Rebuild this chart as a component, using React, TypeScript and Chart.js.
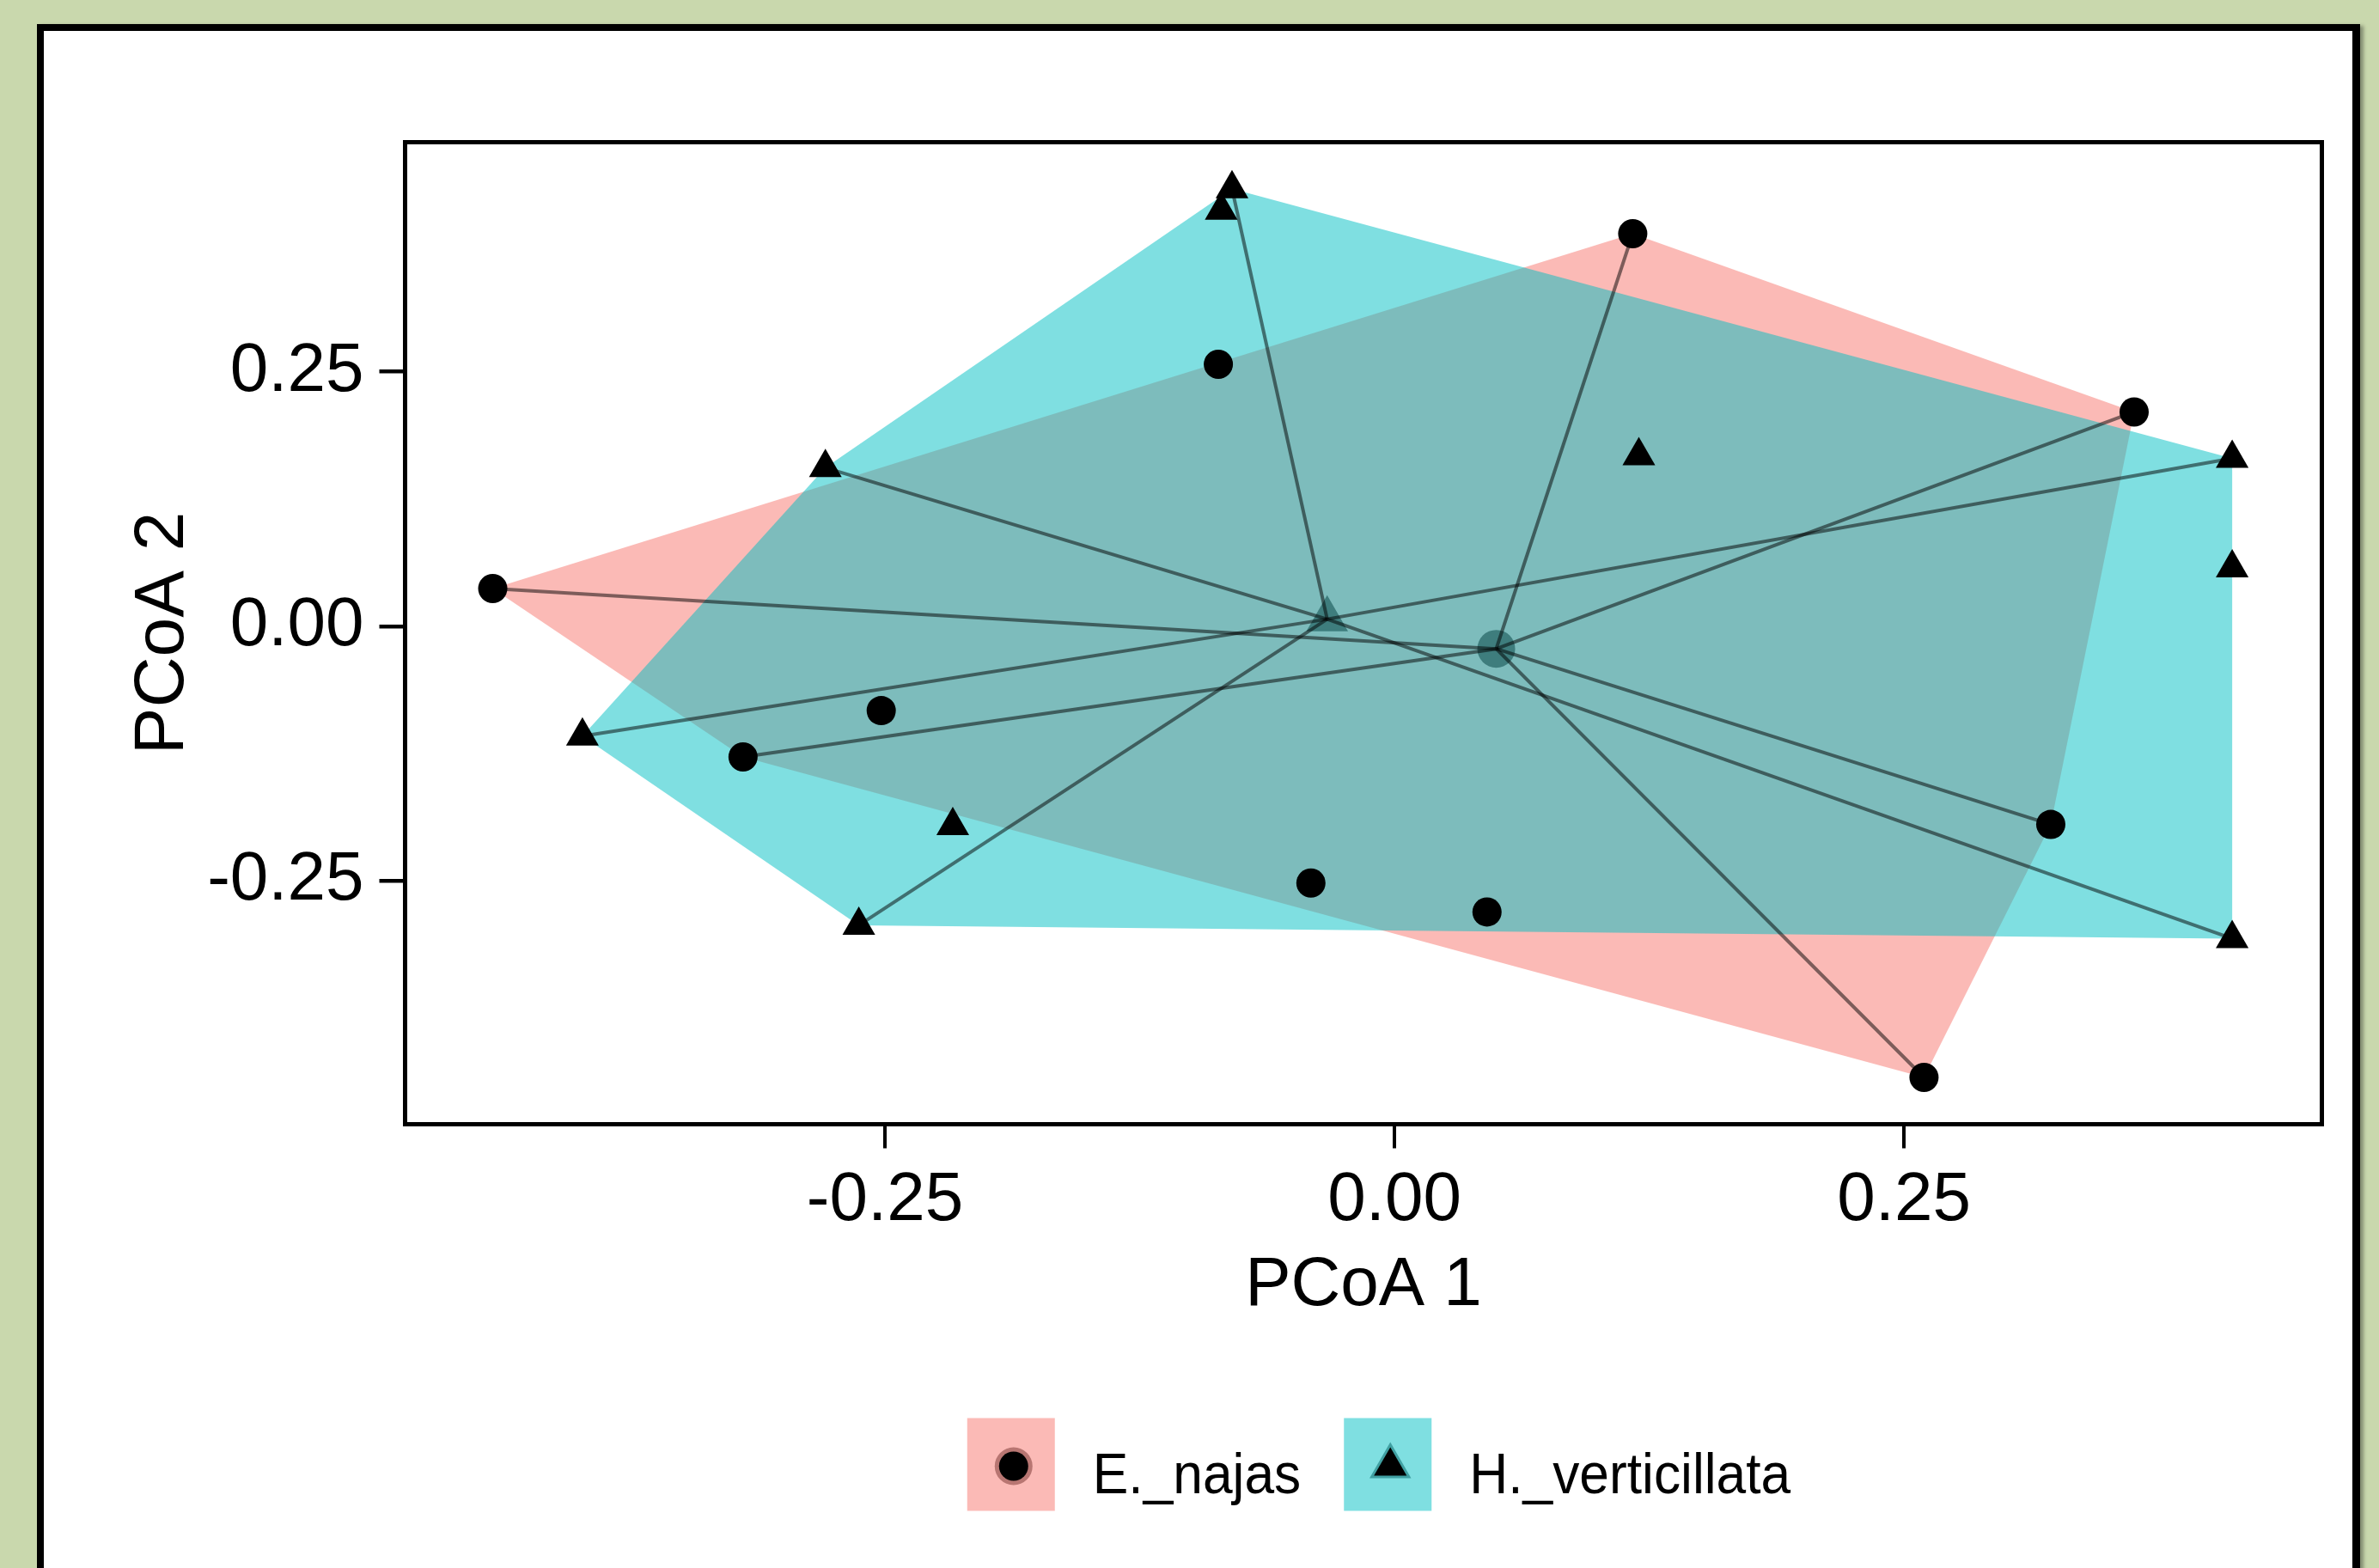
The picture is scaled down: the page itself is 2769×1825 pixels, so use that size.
import React, { useEffect, useRef } from 'react';
import { Chart, registerables } from 'chart.js';

Chart.register(...registerables);

// ---------- data ----------
const SERIES_NAMES = ['E._najas', 'H._verticillata'];

const E_X = [-0.4424, -0.0864, 0.1169, 0.3629, -0.2518, -0.3196, -0.041, 0.0454, 0.322, 0.2598];
const E_Y = [0.0371, 0.2574, 0.3857, 0.2106, -0.0828, -0.1283, -0.2521, -0.2805, -0.1946, -0.443];

const H_X = [-0.0797, -0.085, -0.2792, 0.1199, 0.411, 0.411, -0.3984, -0.2167, -0.2628, 0.411];
const H_Y = [0.4297, 0.4086, 0.1558, 0.1676, 0.165, 0.0573, -0.1078, -0.1958, -0.2936, -0.3067];

const X_TICKS = [-0.25, 0, 0.25];
const Y_TICKS = [-0.25, 0, 0.25];
const X_MIN = -0.4854;
const X_MAX = 0.455;
const Y_MIN = -0.489;
const Y_MAX = 0.4755;
const X_TITLE = 'PCoA 1';
const Y_TITLE = 'PCoA 2';

// ---------- styles ----------
const FONT = '"Liberation Sans", Arial, Helvetica, sans-serif';
const FILL_COLORS = ['rgba(248,118,109,0.5)', 'rgba(0,191,196,0.5)'];
const KEY_RIM_COLORS = ['#B87672', '#40A0A2'];
const CENTROID_COLOR = 'rgba(0,64,64,0.5)';
const SPIDER_COLOR = 'rgba(0,0,0,0.5)';
const PAGE_W = 2769;
const PAGE_H = 1825;

type P = { x: number; y: number };

function convexHull(points: P[]): P[] {
  const pts = points.slice().sort((a, b) => (a.x === b.x ? a.y - b.y : a.x - b.x));
  const cross = (o: P, a: P, b: P) => (a.x - o.x) * (b.y - o.y) - (a.y - o.y) * (b.x - o.x);
  const lower: P[] = [];
  for (const p of pts) {
    while (lower.length >= 2 && cross(lower[lower.length - 2], lower[lower.length - 1], p) <= 0) lower.pop();
    lower.push(p);
  }
  const upper: P[] = [];
  for (let i = pts.length - 1; i >= 0; i--) {
    const p = pts[i];
    while (upper.length >= 2 && cross(upper[upper.length - 2], upper[upper.length - 1], p) <= 0) upper.pop();
    upper.push(p);
  }
  upper.pop();
  lower.pop();
  return lower.concat(upper);
}

function mean(pts: P[]): P {
  const n = pts.length;
  return {
    x: pts.reduce((s, p) => s + p.x, 0) / n,
    y: pts.reduce((s, p) => s + p.y, 0) / n,
  };
}

function drawTri(ctx: CanvasRenderingContext2D, x: number, y: number, r: number) {
  ctx.beginPath();
  ctx.moveTo(x, y - r);
  ctx.lineTo(x + Math.sin((2 * Math.PI) / 3) * r, y - Math.cos((2 * Math.PI) / 3) * r);
  ctx.lineTo(x + Math.sin((4 * Math.PI) / 3) * r, y - Math.cos((4 * Math.PI) / 3) * r);
  ctx.closePath();
  ctx.fill();
}

function drawCircle(ctx: CanvasRenderingContext2D, x: number, y: number, r: number) {
  ctx.beginPath();
  ctx.arc(x, y, r, 0, Math.PI * 2);
  ctx.fill();
}

const boxPlugin = {
  id: 'panelBox',
  afterDraw(chart: any) {
    const { ctx, chartArea } = chart;
    ctx.save();
    ctx.strokeStyle = '#000';
    ctx.lineWidth = 5;
    ctx.strokeRect(chartArea.left, chartArea.top, chartArea.right - chartArea.left, chartArea.bottom - chartArea.top);
    ctx.restore();
  },
};

const legendPlugin = {
  id: 'keyLegend',
  afterDraw(chart: any) {
    const { ctx, chartArea } = chart;
    const fontSize = 67;
    const sx = 0.93;
    const keyW = 102;
    const keyH = 108;
    const gapKeyText = 44;
    const gapTextKey = 50;
    ctx.save();
    ctx.font = `${fontSize}px ${FONT}`;
    const widths = SERIES_NAMES.map((n) => ctx.measureText(n).width * sx);
    const total = widths.reduce((s, w) => s + w, 0) + SERIES_NAMES.length * (keyW + gapKeyText) + gapTextKey * (SERIES_NAMES.length - 1);
    const center = (chartArea.left + chartArea.right) / 2 + 18;
    const keyCy = chartArea.bottom + 396;
    let x = center - total / 2;
    SERIES_NAMES.forEach((name, i) => {
      ctx.fillStyle = '#fff';
      ctx.fillRect(x, keyCy - keyH / 2, keyW, keyH);
      ctx.fillStyle = FILL_COLORS[i];
      ctx.fillRect(x, keyCy - keyH / 2, keyW, keyH);
      const cx = x + keyW / 2 + 3;
      const cy = keyCy + 2;
      ctx.fillStyle = KEY_RIM_COLORS[i];
      if (i === 0) drawCircle(ctx, cx, cy, 22);
      else drawTri(ctx, cx, cy, 28);
      ctx.fillStyle = '#000';
      if (i === 0) drawCircle(ctx, cx, cy, 17);
      else drawTri(ctx, cx, cy, 22);
      const tx = x + keyW + gapKeyText;
      ctx.fillStyle = '#000';
      ctx.textBaseline = 'alphabetic';
      ctx.textAlign = 'left';
      ctx.save();
      ctx.translate(tx, keyCy + 33);
      ctx.scale(sx, 1);
      ctx.fillText(name, 0, 0);
      ctx.restore();
      x = tx + widths[i] + gapTextKey;
    });
    ctx.restore();
  },
};

export default function App() {
  const ref = useRef<HTMLCanvasElement>(null);

  useEffect(() => {
    const canvas = ref.current;
    if (!canvas) return;

    const ePts: P[] = E_X.map((x, i) => ({ x, y: E_Y[i] }));
    const hPts: P[] = H_X.map((x, i) => ({ x, y: H_Y[i] }));
    const eHull = convexHull(ePts);
    const hHull = convexHull(hPts);
    const eCen = mean(eHull);
    const hCen = mean(hHull);

    const spokes = (hull: P[], c: P) =>
      hull.map((v) => ({
        type: 'scatter' as const,
        data: [v, c],
        showLine: true,
        borderColor: SPIDER_COLOR,
        borderWidth: 4,
        pointRadius: 0,
        fill: false,
        order: 0,
      }));

    const datasets: any[] = [
      {
        label: SERIES_NAMES[0] + ' hull',
        data: [...eHull, eHull[0]],
        showLine: true,
        borderWidth: 0,
        borderColor: 'rgba(0,0,0,0)',
        backgroundColor: FILL_COLORS[0],
        fill: 'shape',
        pointRadius: 0,
        tension: 0,
        order: 6,
      },
      {
        label: SERIES_NAMES[1] + ' hull',
        data: [...hHull, hHull[0]],
        showLine: true,
        borderWidth: 0,
        borderColor: 'rgba(0,0,0,0)',
        backgroundColor: FILL_COLORS[1],
        fill: 'shape',
        pointRadius: 0,
        tension: 0,
        order: 5,
      },
      {
        label: SERIES_NAMES[0],
        data: ePts,
        pointStyle: 'circle',
        pointRadius: 17,
        backgroundColor: '#000',
        borderColor: '#000',
        borderWidth: 0,
        order: 3,
      },
      {
        label: SERIES_NAMES[1],
        data: hPts,
        pointStyle: 'triangle',
        pointRadius: 22,
        backgroundColor: '#000',
        borderColor: '#000',
        borderWidth: 0,
        order: 3,
      },
      {
        label: SERIES_NAMES[0] + ' centroid',
        data: [eCen],
        pointStyle: 'circle',
        pointRadius: 22,
        backgroundColor: CENTROID_COLOR,
        borderWidth: 0,
        order: 2,
      },
      {
        label: SERIES_NAMES[1] + ' centroid',
        data: [hCen],
        pointStyle: 'triangle',
        pointRadius: 28,
        backgroundColor: CENTROID_COLOR,
        borderWidth: 0,
        order: 2,
      },
      ...spokes(eHull, eCen),
      ...spokes(hHull, hCen),
    ];

    const tickFont = { family: FONT, size: 80 };

    const chart = new Chart(canvas, {
      type: 'scatter',
      data: { datasets },
      options: {
        responsive: false,
        animation: false,
        devicePixelRatio: 1,
        events: [],
        layout: { padding: { left: 0, top: 165.5, right: 66.5, bottom: 280.5 } },
        plugins: {
          legend: { display: false },
          tooltip: { enabled: false },
          title: { display: false },
        },
        scales: {
          x: {
            type: 'linear',
            position: 'bottom',
            min: X_MIN,
            max: X_MAX,
            afterBuildTicks: (s: any) => {
              s.ticks = X_TICKS.map((v) => ({ value: v }));
            },
            afterFit: (s: any) => {
              s.height = 236;
            },
            ticks: {
              callback: (v: any) => Number(v).toFixed(2),
              font: tickFont,
              color: '#000',
              padding: 13,
              maxRotation: 0,
              autoSkip: false,
            },
            grid: {
              display: true,
              drawOnChartArea: false,
              drawTicks: true,
              tickLength: 28,
              color: '#000',
              lineWidth: 4,
            },
            border: { display: false },
            title: {
              display: true,
              text: X_TITLE,
              font: tickFont,
              color: '#000',
              padding: { top: 0, bottom: 0 },
            },
          },
          y: {
            type: 'linear',
            position: 'left',
            min: Y_MIN,
            max: Y_MAX,
            afterBuildTicks: (s: any) => {
              s.ticks = Y_TICKS.map((v) => ({ value: v }));
            },
            afterFit: (s: any) => {
              s.width = 471.5;
            },
            ticks: {
              callback: (v: any) => Number(v).toFixed(2),
              font: tickFont,
              color: '#000',
              padding: 18,
              autoSkip: false,
            },
            grid: {
              display: true,
              drawOnChartArea: false,
              drawTicks: true,
              tickLength: 30,
              color: '#000',
              lineWidth: 4.5,
            },
            border: { display: false },
            title: {
              display: true,
              text: Y_TITLE,
              font: { family: FONT, size: 82 },
              color: '#000',
              padding: { top: 141, bottom: 0 },
            },
          },
        },
      },
      plugins: [boxPlugin, legendPlugin],
    } as any);

    return () => chart.destroy();
  }, []);

  return (
    <div
      style={{
        position: 'fixed',
        left: 0,
        top: 0,
        width: PAGE_W,
        height: PAGE_H,
        background: '#C9D8AD',
        overflow: 'hidden',
      }}
    >
      <div
        style={{
          position: 'absolute',
          left: 43,
          top: 28,
          width: 2704,
          height: 1900,
          background: '#fff',
          borderLeft: '8px solid #000',
          borderTop: '8px solid #000',
          borderRight: '9px solid #000',
          boxSizing: 'border-box',
          boxShadow: '4px 2px 4px rgba(0,0,0,0.35)',
        }}
      />
      <canvas
        ref={ref}
        width={PAGE_W}
        height={PAGE_H}
        style={{ position: 'absolute', left: 0, top: 0, width: PAGE_W, height: PAGE_H }}
      />
    </div>
  );
}
